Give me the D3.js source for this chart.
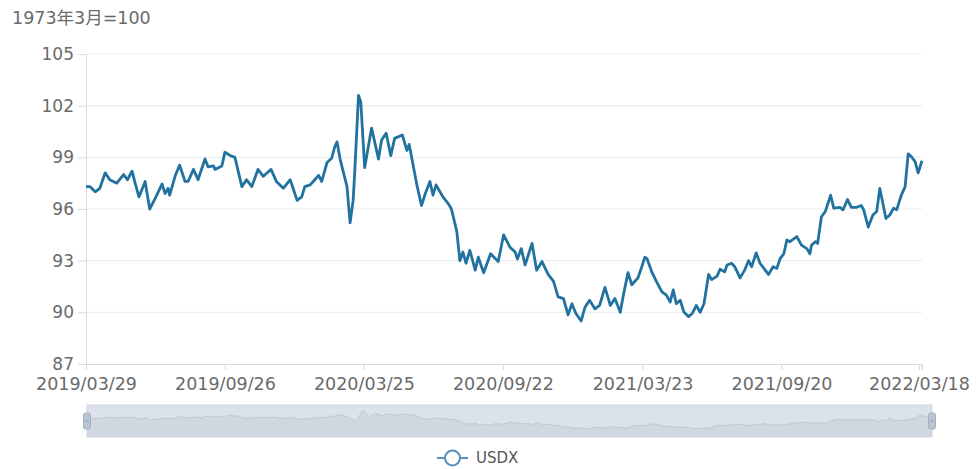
<!DOCTYPE html>
<html>
<head>
<meta charset="utf-8">
<script src="https://cdn.jsdelivr.net/npm/d3@7"></script>
<style>
  body { margin: 0; background: #fff; }
  svg { display: block; font-family: "DejaVu Sans", "Noto Sans CJK SC", sans-serif; }
</style>
</head>
<body>
<svg width="976" height="469"></svg>
<script>
// values (USDX, 1973/03 = 100)
var dates = ["2019-03-29","2019-04-03","2019-04-10","2019-04-16","2019-04-23","2019-04-29","2019-05-08","2019-05-17","2019-05-22","2019-05-28",
  "2019-06-01","2019-06-06","2019-06-14","2019-06-20","2019-06-27","2019-07-06","2019-07-10","2019-07-14","2019-07-16","2019-07-23",
  "2019-07-29","2019-08-05","2019-08-09","2019-08-16","2019-08-22","2019-08-31","2019-09-04","2019-09-11","2019-09-13","2019-09-22",
  "2019-09-26","2019-10-03","2019-10-09","2019-10-18","2019-10-24","2019-10-31","2019-11-08","2019-11-15","2019-11-25","2019-12-02",
  "2019-12-11","2019-12-20","2019-12-29","2020-01-04","2020-01-08","2020-01-15","2020-01-21","2020-01-26","2020-01-30","2020-02-06",
  "2020-02-12","2020-02-16","2020-02-19","2020-02-23","2020-03-03","2020-03-07","2020-03-11","2020-03-13","2020-03-18","2020-03-21",
  "2020-03-26","2020-04-04","2020-04-13","2020-04-17","2020-04-23","2020-04-29","2020-05-04","2020-05-14","2020-05-20","2020-05-23",
  "2020-06-02","2020-06-08","2020-06-13","2020-06-19","2020-06-23","2020-06-27","2020-07-06","2020-07-13","2020-07-17","2020-07-24",
  "2020-07-28","2020-08-01","2020-08-05","2020-08-10","2020-08-17","2020-08-21","2020-08-28","2020-09-06","2020-09-16","2020-09-23",
  "2020-10-01","2020-10-08","2020-10-11","2020-10-16","2020-10-21","2020-10-30","2020-11-05","2020-11-12","2020-11-20","2020-11-27",
  "2020-12-03","2020-12-10","2020-12-16","2020-12-21","2020-12-26","2021-01-02","2021-01-07","2021-01-13","2021-01-20","2021-01-26",
  "2021-02-02","2021-02-09","2021-02-15","2021-02-22","2021-02-26","2021-03-04","2021-03-09","2021-03-17","2021-03-22","2021-03-26",
  "2021-03-29","2021-04-04","2021-04-10","2021-04-17","2021-04-23","2021-04-28","2021-05-02","2021-05-06","2021-05-11","2021-05-16",
  "2021-05-22","2021-05-27","2021-06-01","2021-06-06","2021-06-11","2021-06-17","2021-06-21","2021-06-28","2021-07-02","2021-07-08",
  "2021-07-11","2021-07-17","2021-07-21","2021-07-28","2021-08-03","2021-08-08","2021-08-12","2021-08-18","2021-08-23","2021-09-03",
  "2021-09-09","2021-09-14","2021-09-18","2021-09-23","2021-09-27","2021-10-01","2021-10-10","2021-10-16","2021-10-23","2021-10-27",
  "2021-10-29","2021-11-03","2021-11-06","2021-11-11","2021-11-16","2021-11-23","2021-11-27","2021-12-05","2021-12-09","2021-12-15",
  "2021-12-20","2021-12-27","2022-01-02","2022-01-05","2022-01-11","2022-01-17","2022-01-22","2022-01-26","2022-02-03","2022-02-08",
  "2022-02-13","2022-02-17","2022-02-23","2022-02-28","2022-03-04","2022-03-08","2022-03-13","2022-03-17","2022-03-22"];

var usdx = [97.3,97.3,97.0,97.2,98.1,97.7,97.5,98.0,97.7,98.2,
  97.5,96.7,97.6,96.0,96.6,97.45,96.9,97.2,96.8,97.9,
  98.55,97.6,97.6,98.3,97.7,98.9,98.45,98.5,98.3,98.5,
  99.3,99.1,99.0,97.3,97.7,97.3,98.3,97.9,98.3,97.6,
  97.2,97.7,96.5,96.7,97.3,97.4,97.7,97.95,97.6,98.7,
  98.95,99.6,99.9,98.9,97.3,95.2,96.5,98.1,102.6,102.2,
  98.4,100.7,98.9,100.0,100.4,99.1,100.1,100.3,99.4,99.75,
  97.4,96.2,96.9,97.6,96.8,97.4,96.7,96.3,96.0,94.7,
  93.0,93.5,92.85,93.6,92.45,93.2,92.3,93.4,92.95,94.5,
  93.8,93.5,93.1,93.7,92.75,94.0,92.45,92.95,92.2,91.8,
  90.9,90.8,89.85,90.5,89.95,89.5,90.3,90.7,90.2,90.4,
  91.45,90.4,90.8,90.0,91.0,92.3,91.6,92.0,92.65,93.2,
  93.1,92.35,91.8,91.2,91.0,90.6,91.3,90.5,90.7,90.0,
  89.75,89.95,90.4,90.0,90.5,92.2,91.9,92.1,92.5,92.35,
  92.75,92.85,92.65,92.0,92.45,93.0,92.65,93.45,92.85,92.2,
  92.65,92.55,93.1,93.4,94.2,94.1,94.4,93.9,93.7,93.4,
  93.9,94.1,94.0,95.55,95.85,96.8,96.05,96.1,95.95,96.55,
  96.1,96.1,96.2,95.95,94.95,95.65,95.85,97.2,95.45,95.65,
  96.05,95.95,96.8,97.3,99.2,99.05,98.75,98.1,98.8];

var xTickLabels = ["2019/03/29","2019/09/26","2020/03/25","2020/09/22","2021/03/23","2021/09/20","2022/03/18"];
var yTicks = [87, 90, 93, 96, 99, 102, 105];
var seriesName = "USDX";
var unitLabel = "1973年3月=100";

var svg = d3.select("svg");
var margin = {top: 54, right: 54, bottom: 105, left: 86},
    width = 976 - margin.left - margin.right,
    height = 469 - margin.top - margin.bottom;

var fontStack = '"DejaVu Sans", "Noto Sans CJK SC", sans-serif';

var parse = d3.timeParse("%Y-%m-%d"),
    parseTick = d3.timeParse("%Y/%m/%d");
var data = dates.map(function(d, i) { return {date: parse(d), value: usdx[i]}; });

var x = d3.scaleTime()
    .domain(d3.extent(data, d => d.date))
    .range([0, width]);
var y = d3.scaleLinear().domain([87, 105]).range([height, 0]);

var lineColor = "#21729f",
    textColor = "#6a6a6a",
    axisColor = "#d3dbe5",
    gridColor = "#e8ebef";

var g = svg.append("g")
    .attr("transform", "translate(" + margin.left + "," + margin.top + ")");

// horizontal grid
g.append("g")
    .selectAll("line")
    .data(yTicks.slice(1))
    .enter().append("line")
      .attr("x1", 0).attr("x2", width)
      .attr("y1", d => y(d)).attr("y2", d => y(d))
      .attr("stroke", gridColor);

// y axis
var yAxis = g.append("g")
    .call(d3.axisLeft(y).tickValues(yTicks).tickSize(8).tickPadding(4))
    .attr("font-family", fontStack)
    .attr("font-size", 17);
yAxis.select(".domain").attr("stroke", axisColor);
yAxis.selectAll(".tick line").attr("stroke", axisColor);
yAxis.selectAll(".tick text").attr("fill", textColor);

// x axis
var xTickDates = xTickLabels.map(parseTick);
var xAxis = g.append("g")
    .attr("transform", "translate(0," + height + ")")
    .call(d3.axisBottom(x).tickValues(xTickDates).tickSize(6).tickPadding(8)
      .tickFormat(d3.timeFormat("%Y/%m/%d")))
    .attr("font-family", fontStack)
    .attr("font-size", 17.5);
xAxis.select(".domain").attr("stroke", axisColor);
xAxis.selectAll(".tick line").attr("stroke", axisColor);
xAxis.selectAll(".tick text").attr("fill", textColor);
// closing tick at the axis end
xAxis.append("line")
    .attr("x1", width).attr("x2", width)
    .attr("y1", 0).attr("y2", 6)
    .attr("stroke", axisColor);

// unit label top left
svg.append("text")
    .attr("x", 12).attr("y", 24)
    .attr("fill", textColor)
    .style("font-size", "17.5px")
    .text(unitLabel);

// the series line
var line = d3.line().x(d => x(d.date)).y(d => y(d.value));
g.append("path")
    .datum(data)
    .attr("fill", "none")
    .attr("stroke", lineColor)
    .attr("stroke-width", 2.8)
    .attr("stroke-linejoin", "round")
    .attr("d", line);

/* data zoom slider under the chart */
var slider = {x: 87, y: 405, w: 845, h: 32};
var sx = d3.scaleTime().domain(x.domain()).range([slider.x, slider.x + slider.w]);
var sy = d3.scaleLinear().domain(d3.extent(usdx)).range([slider.y + slider.h - 8, slider.y + 6]);

svg.append("rect")
    .attr("x", slider.x).attr("y", slider.y)
    .attr("width", slider.w).attr("height", slider.h)
    .attr("fill", "#dce2eb")
    .attr("stroke", "#d0d7e2");

svg.append("path")
    .datum(data)
    .attr("fill", "#d0d7e1")
    .attr("d", d3.area().x(d => sx(d.date)).y0(slider.y + slider.h).y1(d => sy(d.value)));
svg.append("path")
    .datum(data)
    .attr("fill", "none")
    .attr("stroke", "#c0c8d4")
    .attr("d", d3.line().x(d => sx(d.date)).y(d => sy(d.value)));

[slider.x, slider.x + slider.w].forEach(function(hx) {
  svg.append("rect")
      .attr("x", hx - 3.5).attr("y", slider.y + 8)
      .attr("width", 7).attr("height", 16)
      .attr("rx", 2)
      .attr("fill", "#b9c4d3")
      .attr("stroke", "#a3b0c2");
  svg.append("line")
      .attr("x1", hx - 1.5).attr("x2", hx + 1.5)
      .attr("y1", slider.y + 16).attr("y2", slider.y + 16)
      .attr("stroke", "#8e9db2");
});

// legend
var legend = svg.append("g").attr("transform", "translate(437,458)");
legend.append("line")
    .attr("x1", 0).attr("x2", 31)
    .attr("stroke", "#5b8fb9").attr("stroke-width", 2);
legend.append("circle")
    .attr("cx", 15.5).attr("r", 7.5)
    .attr("fill", "#fff")
    .attr("stroke", "#5b8fb9").attr("stroke-width", 2);
legend.append("text")
    .attr("x", 39).attr("dy", "0.35em")
    .attr("fill", "#555")
    .style("font-size", "15px")
    .text(seriesName);
</script>
</body>
</html>
